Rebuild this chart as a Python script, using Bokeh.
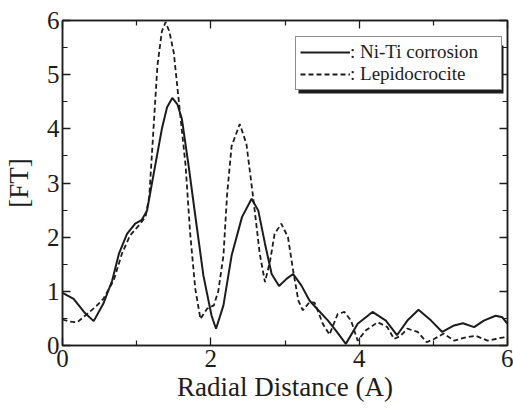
from bokeh.plotting import figure
from bokeh.models import (LinearAxis, FixedTicker, Range1d, Legend, LegendItem,
                          BoxAnnotation, ColumnDataSource)
from bokeh.embed import file_html
from bokeh.resources import INLINE

# Ni-Ti corrosion (solid)
niti_r = [0.0, 0.15, 0.29, 0.42, 0.55, 0.67, 0.76, 0.87, 0.98, 1.07, 1.14, 1.20,
          1.34, 1.41, 1.48, 1.55, 1.61, 1.70, 1.79, 1.90, 2.01, 2.07, 2.17, 2.28,
          2.42, 2.55, 2.64, 2.73, 2.82, 2.92, 3.02, 3.11, 3.22, 3.33, 3.45, 3.58,
          3.70, 3.82, 3.98, 4.18, 4.36, 4.51, 4.65, 4.80, 4.97, 5.12, 5.28, 5.40,
          5.55, 5.68, 5.84, 5.93, 6.00]
niti_ft = [0.97, 0.86, 0.62, 0.45, 0.77, 1.20, 1.69, 2.06, 2.25, 2.32, 2.49, 2.95,
           4.00, 4.40, 4.57, 4.45, 4.18, 3.32, 2.40, 1.29, 0.55, 0.31, 0.74, 1.66,
           2.37, 2.71, 2.49, 1.88, 1.32, 1.10, 1.23, 1.32, 1.11, 0.83, 0.65, 0.46,
           0.25, 0.03, 0.40, 0.62, 0.46, 0.19, 0.46, 0.66, 0.46, 0.25, 0.37, 0.41,
           0.34, 0.46, 0.55, 0.52, 0.40]

# Lepidocrocite (dashed)
lep_r = [0.0, 0.10, 0.20, 0.33, 0.45, 0.55, 0.69, 0.80, 0.91, 1.05, 1.12, 1.17,
         1.21, 1.28, 1.34, 1.39, 1.44, 1.50, 1.57, 1.66, 1.72, 1.79, 1.86, 1.95,
         2.04, 2.10, 2.17, 2.22, 2.28, 2.39, 2.48, 2.57, 2.66, 2.73, 2.80, 2.86,
         2.95, 3.04, 3.11, 3.18, 3.24, 3.33, 3.40, 3.51, 3.60, 3.71, 3.80, 3.89,
         3.98, 4.09, 4.25, 4.38, 4.47, 4.56, 4.65, 4.79, 4.91, 5.01, 5.14, 5.28,
         5.44, 5.57, 5.73, 5.84, 5.95, 6.00]
lep_ft = [0.48, 0.44, 0.43, 0.58, 0.72, 0.86, 1.20, 1.69, 2.03, 2.25, 2.38, 2.75,
          3.63, 5.17, 5.80, 5.97, 5.80, 5.41, 4.49, 3.32, 2.09, 1.05, 0.49, 0.68,
          0.74, 1.00, 1.66, 2.80, 3.68, 4.09, 3.72, 2.74, 1.69, 1.17, 1.57, 2.06,
          2.25, 2.00, 1.38, 0.83, 0.65, 0.80, 0.79, 0.40, 0.20, 0.58, 0.62, 0.46,
          0.09, 0.28, 0.43, 0.34, 0.12, 0.18, 0.31, 0.25, 0.06, 0.12, 0.22, 0.09,
          0.15, 0.18, 0.09, 0.12, 0.15, 0.18]

x_ticks = [0, 2, 4, 6]
x_minor = [1, 3, 5]
y_ticks = [0, 1, 2, 3, 4, 5, 6]
y_minor = [0.5, 1.5, 2.5, 3.5, 4.5, 5.5]

FONT = "'Liberation Serif', 'Times New Roman', serif"
INK = "#1c1c1c"

p = figure(width=513, height=408, output_backend="svg", toolbar_location=None,
           x_range=Range1d(0, 6), y_range=Range1d(0, 6),
           min_border_left=60, min_border_right=6, min_border_top=20,
           min_border_bottom=63,
           x_axis_label="Radial Distance (A)", y_axis_label="[FT]")
p.grid.visible = False
p.background_fill_color = "white"
p.border_fill_color = "white"
p.outline_line_color = INK
p.outline_line_width = 1.5


def style_axis(ax, show_labels=True, ticks=None):
    ax.axis_line_color = INK
    ax.axis_line_width = 1.5
    ax.major_tick_line_color = INK
    ax.minor_tick_line_color = INK
    ax.major_tick_line_width = 1.3
    ax.minor_tick_line_width = 1.2
    ax.major_tick_in = 8
    ax.major_tick_out = 0
    ax.minor_tick_in = 5
    ax.minor_tick_out = 0
    ax.major_label_text_font = FONT
    ax.major_label_text_font_size = "25px"
    ax.major_label_text_color = INK
    ax.axis_label_text_font = FONT
    ax.axis_label_text_font_size = "27px"
    ax.axis_label_text_font_style = "normal"
    ax.axis_label_text_color = INK
    if not show_labels:
        ax.major_label_overrides = {t: "" for t in ticks}
        ax.major_label_text_font_size = "2px"
        ax.major_label_standoff = 0


p.xaxis.ticker = FixedTicker(ticks=x_ticks, minor_ticks=x_minor)
p.yaxis.ticker = FixedTicker(ticks=y_ticks, minor_ticks=y_minor)
style_axis(p.xaxis[0])
style_axis(p.yaxis[0])
p.xaxis.major_label_standoff = 4
p.xaxis.axis_label_standoff = 2
p.yaxis.major_label_standoff = 3
p.yaxis.axis_label_standoff = 10

top = LinearAxis(ticker=FixedTicker(ticks=x_ticks, minor_ticks=x_minor))
style_axis(top, show_labels=False, ticks=x_ticks)
p.add_layout(top, "above")
right = LinearAxis(ticker=FixedTicker(ticks=y_ticks, minor_ticks=y_minor))
style_axis(right, show_labels=False, ticks=y_ticks)
p.add_layout(right, "right")

src_a = ColumnDataSource(data=dict(r=niti_r, ft=niti_ft))
src_b = ColumnDataSource(data=dict(r=lep_r, ft=lep_ft))
ra = p.line("r", "ft", source=src_a, line_color=INK, line_width=2.0)
rb = p.line("r", "ft", source=src_b, line_color=INK, line_width=1.8,
            line_dash="5 3")

# drop shadow of the legend box (screen units: from frame bottom-left, y up)
shadow = BoxAnnotation(left=236, right=441, top=300, bottom=252,
                       left_units="screen", right_units="screen",
                       top_units="screen", bottom_units="screen",
                       fill_color=INK, fill_alpha=1.0, line_alpha=0)
p.add_layout(shadow)

legend = Legend(items=[LegendItem(label=": Ni-Ti corrosion", renderers=[ra]),
                       LegendItem(label=": Lepidocrocite", renderers=[rb])],
                location=(233, 255), orientation="vertical",
                label_text_font=FONT, label_text_font_size="19px",
                label_text_color=INK, label_standoff=0,
                glyph_width=50, glyph_height=20, label_height=20,
                label_width=147,
                spacing=0, padding=4, margin=0,
                border_line_color=INK, border_line_width=1.2,
                background_fill_color="white", background_fill_alpha=1.0)
p.add_layout(legend, "center")

open("out.html", "w").write(file_html(p, INLINE))
